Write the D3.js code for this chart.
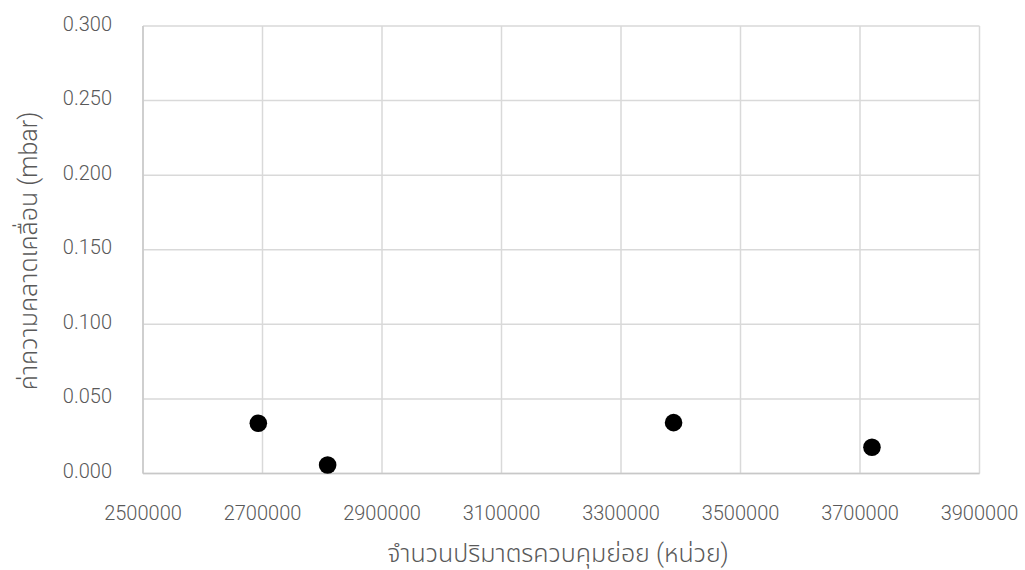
<!DOCTYPE html>
<html><head><meta charset="utf-8">
<script src="https://cdn.jsdelivr.net/npm/d3@7"></script>
<style>body{margin:0;background:#fff}svg{display:block}</style>
</head><body>
<svg id="c" width="1025" height="570"></svg>
<script>
const xValues = [2693000, 2809000, 3388000, 3720000];
const yValues = [0.0337, 0.0057, 0.0341, 0.0176];
const xTicks = [2500000, 2700000, 2900000, 3100000, 3300000, 3500000, 3700000, 3900000];
const yTicks = [0, 0.05, 0.1, 0.15, 0.2, 0.25, 0.3];
const xTitle = "จำนวนปริมาตรควบคุมย่อย (หน่วย)";
const yTitle = "ค่าความคลาดเคลื่อน (mbar)";

const svg = d3.select("#c");
const L = 143, R = 979.5, T = 26, B = 473.5;
const x = d3.scaleLinear().domain([2500000, 3900000]).range([L, R]);
const y = d3.scaleLinear().domain([0, 0.3]).range([B, T]);
const font = "Roboto,'Noto Sans Thai','Noto Sans',sans-serif";
const grid = "#d9d9d9", txt = "#595959";

svg.append("g").selectAll("line").data(yTicks).join("line")
  .attr("x1", L).attr("x2", R).attr("y1", d => y(d)).attr("y2", d => y(d))
  .attr("stroke", grid).attr("stroke-width", 1.5);
svg.append("g").selectAll("line").data(xTicks).join("line")
  .attr("y1", T).attr("y2", B).attr("x1", d => x(d)).attr("x2", d => x(d))
  .attr("stroke", grid).attr("stroke-width", 1.5);
svg.append("line").attr("x1", L).attr("x2", R).attr("y1", B).attr("y2", B).attr("stroke", "#c8c8c8").attr("stroke-width", 1.5);
svg.append("line").attr("x1", L).attr("x2", L).attr("y1", T).attr("y2", B).attr("stroke", "#c8c8c8").attr("stroke-width", 1.5);

svg.append("g").selectAll("text").data(yTicks).join("text")
  .attr("x", 112).attr("y", d => y(d) + 4.5)
  .attr("text-anchor", "end").attr("font-family", font).attr("font-weight", 300).attr("font-size", 20).attr("fill", txt)
  .text(d => d3.format(".3f")(d));
svg.append("g").selectAll("text").data(xTicks).join("text")
  .attr("x", d => x(d)).attr("y", 520)
  .attr("text-anchor", "middle").attr("font-family", font).attr("font-weight", 300).attr("font-size", 20).attr("fill", txt)
  .text(d => d);

svg.append("text").attr("x", 558).attr("y", 562)
  .attr("text-anchor", "middle").attr("font-family", font).attr("font-weight", 300).attr("font-size", 25).attr("fill", txt).text(xTitle);
svg.append("text").attr("transform", `translate(37,251) rotate(-90)`)
  .attr("text-anchor", "middle").attr("font-family", font).attr("font-weight", 300).attr("font-size", 25).attr("fill", txt).text(yTitle);

svg.append("g").selectAll("circle").data(xValues.map((v, i) => [v, yValues[i]])).join("circle")
  .attr("cx", d => x(d[0])).attr("cy", d => y(d[1])).attr("r", 8.8).attr("fill", "#000");
</script>
</body></html>
